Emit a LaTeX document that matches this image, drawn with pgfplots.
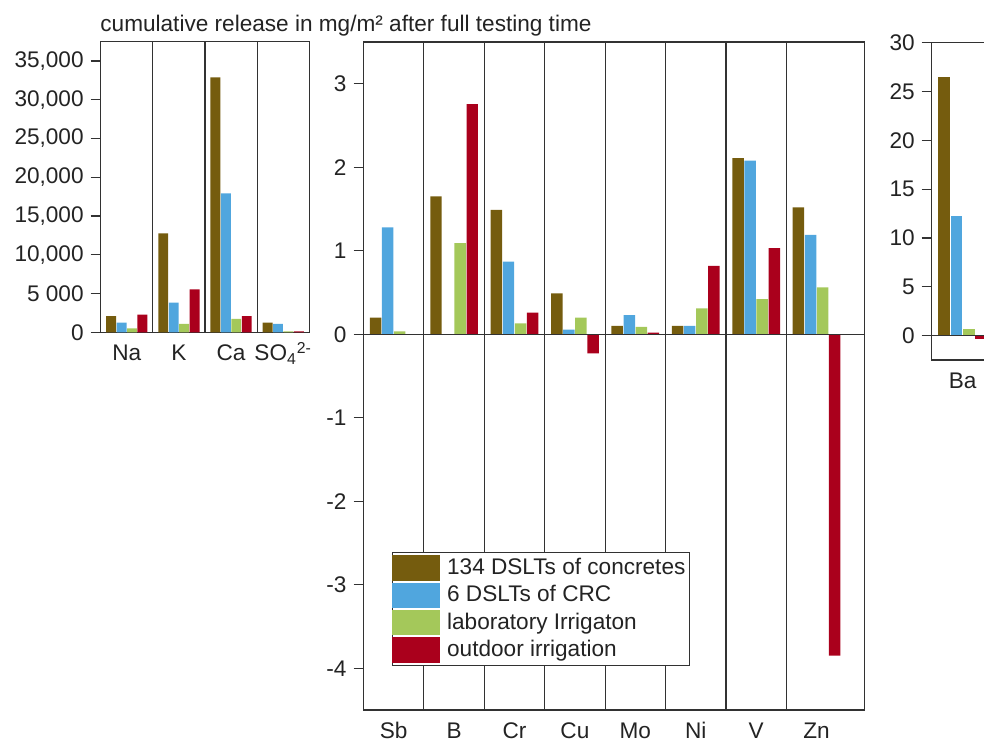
\documentclass[border=0pt]{standalone}
\usepackage{fontspec}
\setmainfont{Liberation Sans}
\usepackage{pgfplots}
\pgfplotsset{compat=1.18}
\definecolor{cBrown}{RGB}{117,92,14}
\definecolor{cBlue}{RGB}{80,166,222}
\definecolor{cGreen}{RGB}{164,200,90}
\definecolor{cRed}{RGB}{170,0,28}
\definecolor{cLine}{RGB}{50,50,50}
\definecolor{cText}{RGB}{35,35,35}
\pgfplotsset{
  panel/.style={
    scale only axis,
    ybar,
    bar width=0.19,
    enlargelimits=false,
    axis line style={cLine, line width=0.6pt},
    font=\fontsize{11.3}{13.5}\selectfont,
    /pgf/number format/assume math mode=true,
    tick align=outside,
    ytick pos=left,
    major tick length=5pt,
    y tick style={cLine, line width=0.6pt},
    x tick style={draw=none},
    xticklabel style={yshift=2.5pt, text=cText, text height=8.3pt, text depth=0pt},
    yticklabel style={text=cText},
    xminorgrids=true,
    minor x grid style={cLine, line width=0.55pt},
  },
  myleg/.style={legend image code/.code={\fill[##1] (0pt,-6.4pt) rectangle (24pt,6.4pt); \path (25.5pt,0pt);}},
}
\begin{document}
\begin{tikzpicture}
\useasboundingbox (0pt,0pt) rectangle (492pt,371pt);
% ---------- left panel ----------
\begin{axis}[panel,
  at={(50.35pt,204.85pt)}, anchor=south west,
  width=104.3pt, height=145.3pt,
  xmin=0, xmax=4, ymin=0, ymax=37500,
  xtick={0.5,1.5,2.5,3.5},
  xticklabels={Na,K,Ca,SO\textsubscript{4}\textsuperscript{2-}},
  minor xtick={1,2,3},
  ytick={0,5000,10000,15000,20000,25000,30000,35000},
  yticklabels={0,{5 000},{10,000},{15,000},{20,000},{25,000},{30,000},{35,000}},
  scaled y ticks=false,
]
\addplot[fill=cBrown, draw=none, bar shift=-0.3] coordinates {(0.5,2100) (1.5,12770) (2.5,32900) (3.5,1240)};
\addplot[fill=cBlue, draw=none, bar shift=-0.1] coordinates {(0.5,1250) (1.5,3820) (2.5,17930) (3.5,1070)};
\addplot[fill=cGreen, draw=none, bar shift=0.1] coordinates {(0.5,520) (1.5,1070) (2.5,1720) (3.5,130)};
\addplot[fill=cRed, draw=none, bar shift=0.3] coordinates {(0.5,2270) (1.5,5550) (2.5,2100) (3.5,120)};
\end{axis}
% ---------- middle panel ----------
\begin{axis}[panel,
  at={(181.75pt,16pt)}, anchor=south west,
  width=250.4pt, height=334pt,
  xmin=0, xmax=8.29, ymin=-4.5, ymax=3.5,
  xtick={0.5,1.5,2.5,3.5,4.5,5.5,6.5,7.5},
  xticklabels={Sb,B,Cr,Cu,Mo,Ni,V,Zn},
  minor xtick={1,2,3,4,5,6,7},
  ytick={-4,-3,-2,-1,0,1,2,3},
  legend style={at={(0.056,0.237)}, anchor=north west, draw=cLine, line width=0.6pt,
    fill=white, inner xsep=0pt, inner ysep=1pt, row sep=0pt,
    font=\fontsize{11.3}{13.5}\selectfont, text=cText},
  legend cell align=left,
]
\addplot[fill=cBrown, draw=none, bar shift=-0.3, myleg] coordinates {(0.5,0.20) (1.5,1.65) (2.5,1.49) (3.5,0.49) (4.5,0.10) (5.5,0.10) (6.5,2.11) (7.5,1.52)};
\addplot[fill=cBlue, draw=none, bar shift=-0.1, myleg] coordinates {(0.5,1.28) (1.5,0) (2.5,0.87) (3.5,0.056) (4.5,0.23) (5.5,0.10) (6.5,2.08) (7.5,1.19)};
\addplot[fill=cGreen, draw=none, bar shift=0.1, myleg] coordinates {(0.5,0.035) (1.5,1.09) (2.5,0.13) (3.5,0.20) (4.5,0.087) (5.5,0.31) (6.5,0.42) (7.5,0.56)};
\addplot[fill=cRed, draw=none, bar shift=0.3, myleg] coordinates {(0.5,0) (1.5,2.755) (2.5,0.26) (3.5,-0.23) (4.5,0.02) (5.5,0.82) (6.5,1.03) (7.5,-3.85)};
\draw[cLine, line width=0.6pt] (rel axis cs:0,0.5625) -- (rel axis cs:1,0.5625);
\legend{134 DSLTs of concretes, 6 DSLTs of CRC, laboratory Irrigaton, outdoor irrigation}
\end{axis}
% ---------- right panel ----------
\begin{axis}[panel,
  at={(465.85pt,191pt)}, anchor=south west,
  width=31pt, height=158.65pt,
  xmin=0, xmax=1, ymin=-2.5, ymax=30,
  xtick={0.5}, xticklabels={Ba},
  minor xtick={},
  ytick={0,5,10,15,20,25,30},
]
\addplot[fill=cBrown, draw=none, bar shift=-0.3] coordinates {(0.5,26.45)};
\addplot[fill=cBlue, draw=none, bar shift=-0.1] coordinates {(0.5,12.2)};
\addplot[fill=cGreen, draw=none, bar shift=0.1] coordinates {(0.5,0.69)};
\addplot[fill=cRed, draw=none, bar shift=0.3] coordinates {(0.5,-0.34)};
\draw[cLine, line width=0.6pt] (rel axis cs:0,0.0769) -- (rel axis cs:1,0.0769);
\end{axis}
\node[anchor=base west, font=\fontsize{11.3}{13.5}\selectfont, text=cText, inner sep=0pt] at (50pt,355pt) {cumulative release in mg/m² after full testing time};
\end{tikzpicture}
\end{document}
